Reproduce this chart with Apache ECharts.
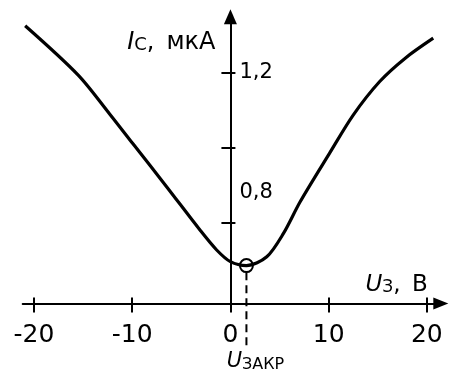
<!DOCTYPE html>
<html>
<head>
<meta charset="utf-8">
<script src="https://cdn.jsdelivr.net/npm/echarts@6/dist/echarts.min.js"></script>
<style>
  html, body { margin: 0; padding: 0; background: #fff; }
  #chart { width: 449px; height: 376px; }
</style>
</head>
<body>
<div id="chart"></div>
<script>
// Drain current I_C (µA) versus gate voltage U_З (V)
const voltage = [-20.9, -15.5, -12.3, -9.9, -6.5, -3.1, -1.4, 0, 1.63, 3.7, 5.4, 7.1, 10.1, 12.5, 15.2, 17.8, 20.65];
const current = [1.324, 1.193, 1.090, 1.010, 0.897, 0.782, 0.729, 0.698, 0.6875, 0.711, 0.773, 0.857, 0.986, 1.087, 1.176, 1.238, 1.291];

// Cut-off point (minimum of the curve)
const cutoffVoltage = 1.63;
const cutoffCurrent = 0.6875;
const cutoffGuide = [0.670, 0.469];   // dashed drop line: from the marker down below the axis

// Axis ranges and ticks
const xRange = [-21.15, 21.42];
const yRange = [0.587, 1.348];
const xTicks = [-20, -10, 0, 10, 20];
const yTicks = [0.8, 1.0, 1.2];
const yTickLabels = [1.2, 0.8];

const FONT = 'DejaVu Sans';
const BLACK = '#000';

const GRID = { left: 22.7, right: 8.2, top: 16.7, bottom: 72.5 };
const curveData = voltage.map((u, i) => [u, current[i]]);

const chart = echarts.init(document.getElementById('chart'), null, { renderer: 'canvas' });

// The vertical axis is drawn through U = 0: shift it right from the grid's left edge.
const plotWidth = 449 - GRID.left - GRID.right;
const yAxisShift = -plotWidth * (0 - xRange[0]) / (xRange[1] - xRange[0]);

const baseX = {
  type: 'value',
  min: xRange[0],
  max: xRange[1],
  position: 'bottom',
  splitLine: { show: false }
};
const baseY = {
  type: 'value',
  min: yRange[0],
  max: yRange[1],
  position: 'left',
  offset: yAxisShift,
  splitLine: { show: false }
};

// Companion axes only carry the tick halves on the plot side, so ticks cross the axis lines.
const hiddenLine = { show: true, onZero: false, lineStyle: { color: 'rgba(0,0,0,0)', width: 0 } };
const emptyLabel = { show: true, formatter: () => '' };

chart.setOption({
  animation: false,
  backgroundColor: '#fff',
  grid: Object.assign({ outerBoundsMode: 'none', containLabel: false }, GRID),
  xAxis: [
    Object.assign({}, baseX, {
      axisLine: {
        show: true, onZero: false,
        lineStyle: { color: BLACK, width: 2 },
        symbol: ['none', 'triangle'], symbolSize: [12, 15]
      },
      axisTick: { show: true, customValues: xTicks, inside: false, length: 9, lineStyle: { color: BLACK, width: 2 } },
      axisLabel: {
        show: true, customValues: xTicks, margin: 19,
        color: BLACK, fontFamily: FONT, fontSize: 25,
        formatter: v => String(v)
      },
      name: '{i|U}{s|З}{n|,\u2002В}',
      nameLocation: 'end',
      nameGap: -13,
      nameTextStyle: {
        align: 'right', verticalAlign: 'middle', padding: [0, 0, 40, 0],
        rich: {
          i: { fontFamily: FONT, fontSize: 23, fontStyle: 'italic', color: BLACK, lineHeight: 26, verticalAlign: 'bottom' },
          s: { fontFamily: FONT, fontSize: 17, color: BLACK, lineHeight: 18, verticalAlign: 'bottom' },
          n: { fontFamily: FONT, fontSize: 23, color: BLACK, lineHeight: 26, verticalAlign: 'bottom' }
        }
      }
    }),
    Object.assign({}, baseX, {
      axisLine: hiddenLine,
      axisTick: { show: true, customValues: xTicks, inside: true, length: 6, lineStyle: { color: BLACK, width: 2 } },
      axisLabel: Object.assign({ customValues: xTicks }, emptyLabel)
    })
  ],
  yAxis: [
    Object.assign({}, baseY, {
      axisLine: {
        show: true, onZero: false,
        lineStyle: { color: BLACK, width: 2 },
        symbol: ['none', 'triangle'], symbolSize: [13, 15]
      },
      axisTick: { show: true, customValues: yTicks, inside: false, length: 9, lineStyle: { color: BLACK, width: 2 } },
      axisLabel: {
        show: true, customValues: yTickLabels, inside: true, margin: 9,
        color: BLACK, fontFamily: FONT, fontSize: 21,
        formatter: v => Math.abs(v - 0.8) < 1e-6 ? '{up|0,8}' : '{n|' + String(v).replace('.', ',') + '}',
        rich: {
          n: { fontFamily: FONT, fontSize: 21, color: BLACK },
          up: { fontFamily: FONT, fontSize: 21, color: BLACK, padding: [0, 0, 61, 0] }
        }
      },
      name: '{i|I}{s|C}{n|,\u2002мкА}',
      nameLocation: 'end',
      nameGap: -24.3,
      nameTextStyle: {
        align: 'right', verticalAlign: 'middle', padding: [0, 15, 0, 0],
        rich: {
          i: { fontFamily: FONT, fontSize: 24, fontStyle: 'italic', color: BLACK, lineHeight: 27, verticalAlign: 'bottom' },
          s: { fontFamily: FONT, fontSize: 18, color: BLACK, lineHeight: 19, verticalAlign: 'bottom' },
          n: { fontFamily: FONT, fontSize: 24, color: BLACK, lineHeight: 27, verticalAlign: 'bottom' }
        }
      }
    }),
    Object.assign({}, baseY, {
      axisLine: hiddenLine,
      axisTick: { show: true, customValues: yTicks, inside: true, length: 5, lineStyle: { color: BLACK, width: 2 } },
      axisLabel: Object.assign({ customValues: yTicks }, emptyLabel)
    })
  ],
  series: [
    {
      name: 'I_C',
      type: 'line',
      xAxisIndex: 0, yAxisIndex: 0,
      data: curveData,
      smooth: 0.3,
      symbol: 'none',
      lineStyle: { color: BLACK, width: 3.2 },
      z: 3
    },
    {
      name: 'cutoff guide',
      type: 'line',
      xAxisIndex: 0, yAxisIndex: 0,
      data: [[cutoffVoltage, cutoffGuide[0]], [cutoffVoltage, cutoffGuide[1]]],
      symbol: 'none',
      clip: false,
      lineStyle: { color: BLACK, width: 2, type: [8, 5], opacity: 1 },
      z: 3
    },
    {
      name: 'cutoff point',
      type: 'scatter',
      xAxisIndex: 0, yAxisIndex: 0,
      data: [[cutoffVoltage, cutoffCurrent]],
      symbol: 'circle',
      symbolSize: 13,
      itemStyle: { color: 'rgba(0,0,0,0)', borderColor: BLACK, borderWidth: 2, opacity: 1 },
      z: 4
    },
    {
      name: 'cutoff label',
      type: 'scatter',
      xAxisIndex: 0, yAxisIndex: 0,
      data: [[cutoffVoltage, cutoffGuide[1]]],
      symbolSize: 1,
      clip: false,
      itemStyle: { color: 'rgba(0,0,0,0)', opacity: 1 },
      label: {
        show: true, position: 'bottom', distance: 0, offset: [9, 0], color: BLACK,
        formatter: '{i|U}{s|ЗАКР}',
        rich: {
          i: { fontFamily: FONT, fontSize: 21, fontStyle: 'italic', color: BLACK, lineHeight: 24, verticalAlign: 'bottom' },
          s: { fontFamily: FONT, fontSize: 16, color: BLACK, lineHeight: 19, verticalAlign: 'bottom' }
        }
      },
      z: 4
    }
  ]
});
</script>
</body>
</html>
